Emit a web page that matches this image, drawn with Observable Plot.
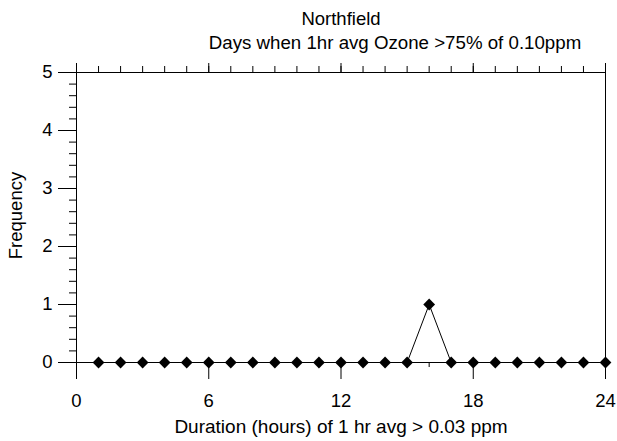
<!DOCTYPE html>
<html>
<head>
<meta charset="utf-8">
<script src="https://cdn.jsdelivr.net/npm/d3@7"></script>
<script src="https://cdn.jsdelivr.net/npm/@observablehq/plot@0.6"></script>
<style>
  html, body { margin: 0; padding: 0; background: #fff; }
  svg { display: block; }
</style>
</head>
<body>
<div id="chart"></div>
<script>
const hours = [1,2,3,4,5,6,7,8,9,10,11,12,13,14,15,16,17,18,19,20,21,22,23,24];
const freq  = [0,0,0,0,0,0,0,0,0,0,0,0,0,0,0,1,0,0,0,0,0,0,0,0];
const xMajor = [0,6,12,18,24];
const xMinor = [0,1,2,3,4,5,6,7,8,9,10,11,12,13,14,15,16,17,18,19,20,21,22,23,24];
const yMajor = [0,1,2,3,4,5];
const yMinor = [0,0.2,0.4,0.6,0.8,1,1.2,1.4,1.6,1.8,2,2.2,2.4,2.6,2.8,3,3.2,3.4,3.6,3.8,4,4.2,4.4,4.6,4.8,5];
const title = "Northfield";
const subtitle = "Days when 1hr avg Ozone >75% of 0.10ppm";
const xLabel = "Duration (hours) of 1 hr avg > 0.03 ppm";
const yLabel = "Frequency";

const data = hours.map((h, i) => ({h, f: freq[i]}));

const font = "Arial, 'Liberation Sans', Helvetica, sans-serif";

const chart = Plot.plot({
  width: 617,
  height: 441,
  marginLeft: 76,
  marginRight: 12,
  marginTop: 72,
  marginBottom: 79,
  style: {fontFamily: font, fontSize: "18px", color: "#000", background: "#fff"},
  x: {domain: [0, 24]},
  y: {domain: [0, 5]},
  marks: [
    Plot.frame({stroke: "#000", strokeWidth: 1}),
    // bottom axis
    Plot.axisX(xMinor, {anchor: "bottom", tickSize: 5, text: null, label: null, stroke: "#000"}),
    Plot.axisX(xMajor, {anchor: "bottom", tickSize: 17, tickPadding: 14, tickFormat: "d", label: null, fontSize: 18.5, stroke: "#000", fill: "#000"}),
    // top axis
    Plot.axisX(xMinor, {anchor: "top", tickSize: 7, text: null, label: null, stroke: "#000"}),
    Plot.axisX(xMajor, {anchor: "top", tickSize: 10, text: null, label: null, stroke: "#000"}),
    // left axis
    Plot.axisY(yMinor, {anchor: "left", tickSize: 7, text: null, label: null, stroke: "#000"}),
    Plot.axisY(yMajor, {anchor: "left", tickSize: 18, tickPadding: 6, tickFormat: "d", label: null, fontSize: 18.5, stroke: "#000", fill: "#000"}),
    // data
    Plot.line(data, {x: "h", y: "f", stroke: "#000", strokeWidth: 1}),
    Plot.dot(data, {x: "h", y: "f", symbol: "diamond2", r: 5.3, fill: "#000", stroke: "none"}),
    // texts
    Plot.text([title], {frameAnchor: "top", textAnchor: "middle", lineAnchor: "middle", dx: 0, dy: -53, fontSize: 18.5, fill: "#000", text: d => d}),
    Plot.text([subtitle], {frameAnchor: "top", textAnchor: "middle", lineAnchor: "middle", dx: 54, dy: -29, fontSize: 18.7, fill: "#000", text: d => d}),
    Plot.text([xLabel], {frameAnchor: "bottom", textAnchor: "middle", lineAnchor: "middle", dx: 0, dy: 64, fontSize: 19, fill: "#000", text: d => d}),
    Plot.text([yLabel], {frameAnchor: "left", textAnchor: "middle", lineAnchor: "middle", dx: -60, dy: -2, rotate: -90, fontSize: 18.5, fill: "#000", text: d => d})
  ]
});
document.getElementById("chart").appendChild(chart);
</script>
</body>
</html>
